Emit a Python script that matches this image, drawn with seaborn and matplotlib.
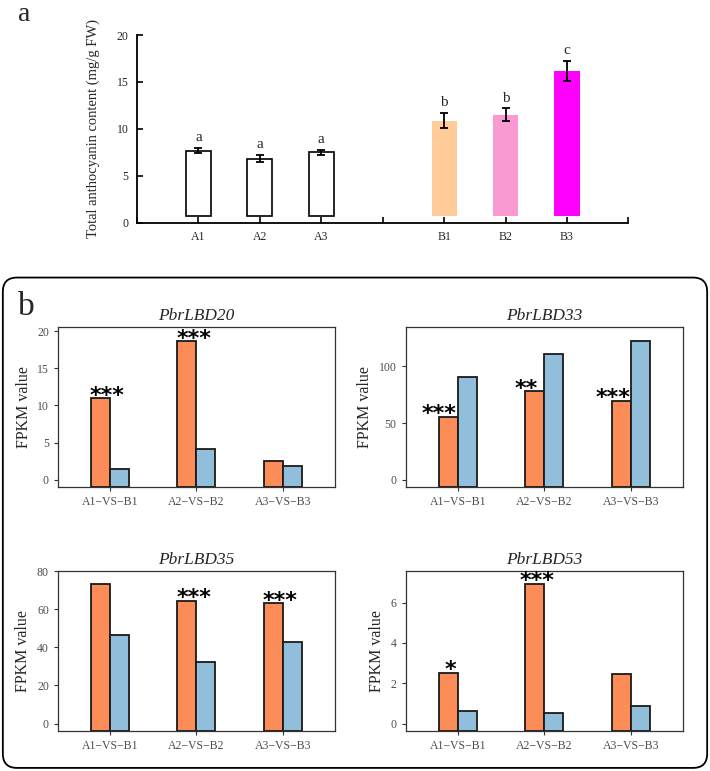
import numpy as np
import pandas as pd
import matplotlib.pyplot as plt
import seaborn as sns
from matplotlib.patches import FancyBboxPatch

# ---- data ----
groups = ["A1", "A2", "A3", " ", "B1", "B2", "B3"]
anthocyanin = [7.7, 6.85, 7.5, np.nan, 10.9, 11.5, 16.2]
anthocyanin_err = [0.27, 0.38, 0.3, np.nan, 0.8, 0.7, 1.05]
sig_letters = ["a", "a", "a", "", "b", "b", "c"]
group_colors = ["white", "white", "white", "white", "#FFCC99", "#F99BD2", "#FF00FF"]

comparisons = ["A1\u2212VS\u2212B1", "A2\u2212VS\u2212B2", "A3\u2212VS\u2212B3"]
genes = ["PbrLBD20", "PbrLBD33", "PbrLBD35", "PbrLBD53"]
fpkm_A = [[10.95, 18.7, 2.57], [55.4, 78.0, 69.8], [73.3, 64.4, 63.2], [2.53, 6.93, 2.46]]
fpkm_B = [[1.49, 4.19, 1.84], [90.6, 110.5, 122.0], [46.6, 32.2, 43.0], [0.63, 0.55, 0.89]]
stars = [["***", "***", ""], ["***", "**", "***"], ["", "***", "***"], ["*", "***", ""]]
ylims = [(-1.0, 20.6), (-6.2, 134.6), (-3.7, 80), (-0.35, 7.57)]
yticks = [[0, 5, 10, 15, 20], [0, 50, 100], [0, 20, 40, 60, 80], [0, 2, 4, 6]]
star_dx = [0.08, -0.1, 0.08, 0.02]

sns.set_style("white")
plt.rcParams["font.family"] = ["Liberation Serif", "DejaVu Serif"]

fig = plt.figure(figsize=(7.1, 7.71), dpi=100)

# ---- panel a ----
axa = fig.add_axes([0.193, 0.7108, 0.692, 0.2438])
dfa = pd.DataFrame({"group": groups, "value": anthocyanin})
sns.barplot(data=dfa, x="group", y="value", hue="group", order=groups,
            palette=dict(zip(groups, group_colors)), width=0.41, legend=False,
            saturation=1, ax=axa, errorbar=None)
base = 0.75
for p, g in zip(axa.patches, groups):
    h = p.get_height()
    if np.isnan(h):
        continue
    p.set_y(base)
    p.set_height(h - base)
    if g.startswith("A"):
        p.set_edgecolor("black")
        p.set_linewidth(1.2)
    else:
        p.set_edgecolor("none")
xs = np.arange(len(groups))
axa.errorbar(xs, anthocyanin, yerr=anthocyanin_err, fmt="none", ecolor="black",
             elinewidth=1.3, capsize=3, capthick=1.3)
for x, v, e, s in zip(xs, anthocyanin, anthocyanin_err, sig_letters):
    if s:
        axa.text(x, v + e + 0.4, s, ha="center", va="bottom", fontsize=11)
axa.set_xlim(-1, 7)
axa.set_ylim(0, 20)
axa.set_xticks(range(-1, 8))
axa.set_xticklabels([""] + groups + [""], fontsize=8.5)
axa.set_yticks([0, 5, 10, 15, 20])
axa.tick_params(axis="y", labelsize=8.5)
axa.tick_params(direction="in", length=4, width=1.2, color="black", pad=6,
                bottom=True, left=True)
axa.set_xlabel("")
axa.set_ylabel("Total anthocyanin content (mg/g FW)", fontsize=10.5, labelpad=12)
for side in ["top", "right"]:
    axa.spines[side].set_visible(False)
for side in ["left", "bottom"]:
    axa.spines[side].set_color("black")
    axa.spines[side].set_linewidth(1.3)
fig.text(0.025, 0.998, "a", fontsize=20, va="top")

# ---- panel b ----
box = FancyBboxPatch((0.004, 0.004), 0.992, 0.636, transform=fig.transFigure,
                     boxstyle="round,pad=0,rounding_size=0.02", fc="none",
                     ec="black", lw=1.3, mutation_aspect=710 / 771)
fig.patches.append(box)
fig.text(0.025, 0.592, "b", fontsize=24, va="baseline")

positions = [[0.0817, 0.3684, 0.390, 0.2075], [0.5714, 0.3684, 0.3906, 0.2075],
             [0.0817, 0.0523, 0.390, 0.2071], [0.5714, 0.0523, 0.3906, 0.2071]]
for i, gene in enumerate(genes):
    ax = fig.add_axes(positions[i])
    df = pd.DataFrame({
        "comparison": comparisons * 2,
        "fpkm": fpkm_A[i] + fpkm_B[i],
        "sample": ["A"] * 3 + ["B"] * 3,
    })
    sns.barplot(data=df, x="comparison", y="fpkm", hue="sample",
                palette=["#FC8D59", "#91BFDB"], width=0.44, legend=False,
                saturation=1, edgecolor="#1a1a1a", linewidth=1.3,
                errorbar=None, ax=ax)
    lo, hi = ylims[i]
    for p in ax.patches:
        h = p.get_height()
        p.set_y(lo)
        p.set_height(h - lo)
    for j, s in enumerate(stars[i]):
        if s:
            p = ax.patches[j]
            x = p.get_x() + p.get_width() / 2 + star_dx[i]
            ax.annotate(s, (x, fpkm_A[i][j]), xytext=(0, -2.5), textcoords="offset points",
                        ha="center", va="baseline", fontsize=16, fontweight="bold",
                        family="DejaVu Sans", color="black")
    ax.set_xlim(-0.6, 2.6)
    ax.set_ylim(lo, hi)
    ax.set_yticks(yticks[i])
    ax.set_title(gene, fontsize=12.5, style="italic", pad=5)
    ax.set_xlabel("")
    ax.set_ylabel("FPKM value", fontsize=11.5)
    ax.tick_params(direction="out", length=3, width=0.8, color="#333333",
                   labelcolor="#4d4d4d", labelsize=8.5, bottom=True, left=True)
    for sp in ax.spines.values():
        sp.set_color("#333333")
        sp.set_linewidth(0.9)

fig.savefig("out.png", dpi=100)
